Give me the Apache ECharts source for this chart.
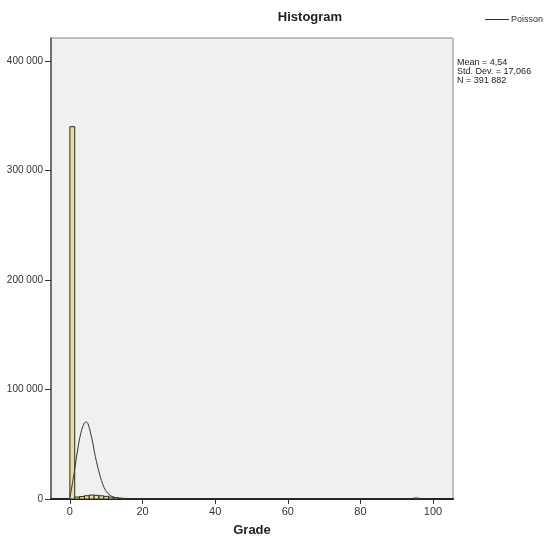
<!DOCTYPE html>
<html>
<head>
<meta charset="utf-8">
<script src="https://cdn.jsdelivr.net/npm/echarts@6/dist/echarts.min.js"></script>
<style>
  html, body { margin: 0; padding: 0; background: #fff; }
  #chart { width: 552px; height: 542px; }
</style>
</head>
<body>
<div id="chart"></div>
<script>
// histogram bins (lower edge, width 4/3) and counts
const binWidth = 4 / 3
const binStarts = [0, 1.333, 2.667, 4, 5.333, 6.667, 8, 9.333, 10.667, 12, 13.333, 14.667, 16, 17.333, 18.667, 20, 94.667]
const binCounts = [340000, 1800, 2300, 3000, 3600, 3400, 2900, 2400, 1800, 1200, 800, 500, 400, 300, 200, 150, 900]

// fitted Poisson curve
const curveX = [0, 1, 2, 3, 4, 4.5, 5, 6, 7, 8, 9, 10, 11, 12, 13, 14, 16, 20, 40, 60, 80, 100]
const curveY = [1500, 20000, 42000, 60000, 69500, 70300, 68500, 56000, 39000, 25000, 14000, 7000, 3500, 1800, 900, 400, 100, 0, 0, 0, 0, 0]

const yTicks = [0, 100000, 200000, 300000, 400000]
const xTicks = [0, 20, 40, 60, 80, 100]
const statLines = ['Mean = 4,54', 'Std. Dev. = 17,066', 'N = 391 882']

const chart = echarts.init(document.getElementById('chart'))

const fmtThousands = function (v) {
  return String(v).replace(/\B(?=(\d{3})+(?!\d))/g, ' ')
}

const option = {
  animation: false,
  textStyle: { fontFamily: 'Liberation Sans, Arial, sans-serif' },
  title: {
    text: 'Histogram',
    left: 305,
    top: 6,
    textAlign: 'center',
    textStyle: { fontSize: 13, fontWeight: 'bold', color: '#222' }
  },
  legend: {
    data: ['Poisson'],
    left: 480,
    top: 10,
    icon: 'rect',
    itemWidth: 24,
    itemHeight: 1,
    itemGap: 2,
    textStyle: { fontSize: 9, color: '#333', padding: [0, 0, 0, -3] }
  },
  graphic: [{
    type: 'text',
    left: 457,
    top: 58,
    style: {
      text: statLines.join('\n'),
      font: '9px Liberation Sans, Arial, sans-serif',
      fill: '#222',
      lineHeight: 9
    }
  }],
  grid: {
    left: 51,
    right: 99,
    top: 38,
    bottom: 40,
    show: true,
    backgroundColor: '#f0f0f0',
    borderColor: '#888',
    borderWidth: 1
  },
  xAxis: {
    type: 'value',
    min: -5.2,
    max: 105.5,
    name: 'Grade',
    nameLocation: 'middle',
    nameGap: 25,
    nameTextStyle: { fontSize: 13, fontWeight: 'bold', color: '#222' },
    splitLine: { show: false },
    axisLine: { onZero: false, lineStyle: { color: '#222', width: 2 } },
    axisTick: { customValues: xTicks, length: 5, lineStyle: { color: '#333' } },
    axisLabel: { customValues: xTicks, fontSize: 11, color: '#333', margin: 7 }
  },
  yAxis: {
    type: 'value',
    min: 0,
    max: 421000,
    splitLine: { show: false },
    axisLine: { show: true, onZero: false, lineStyle: { color: '#555', width: 1.5 } },
    axisTick: { customValues: yTicks, length: 6, lineStyle: { color: '#333' } },
    axisLabel: {
      customValues: yTicks,
      fontSize: 10,
      color: '#333',
      margin: 8,
      formatter: fmtThousands
    }
  },
  series: [
    {
      name: 'Histogram',
      type: 'custom',
      data: binStarts.map((s, i) => [s, s + binWidth, binCounts[i]]),
      renderItem: function (params, api) {
        const p0 = api.coord([api.value(0), api.value(2)])
        const p1 = api.coord([api.value(1), 0])
        return {
          type: 'rect',
          shape: { x: p0[0], y: p0[1], width: p1[0] - p0[0], height: p1[1] - p0[1] },
          style: { fill: '#e8df9c', stroke: '#2a2a1a', lineWidth: 1 }
        }
      },
      encode: { x: [0, 1], y: 2 },
      z: 2
    },
    {
      name: 'Poisson',
      type: 'line',
      data: curveX.map((x, i) => [x, curveY[i]]),
      smooth: 0.4,
      showSymbol: false,
      lineStyle: { color: '#333', width: 1 },
      itemStyle: { color: '#333' },
      z: 3
    }
  ]
}

chart.setOption(option)
</script>
</body>
</html>
